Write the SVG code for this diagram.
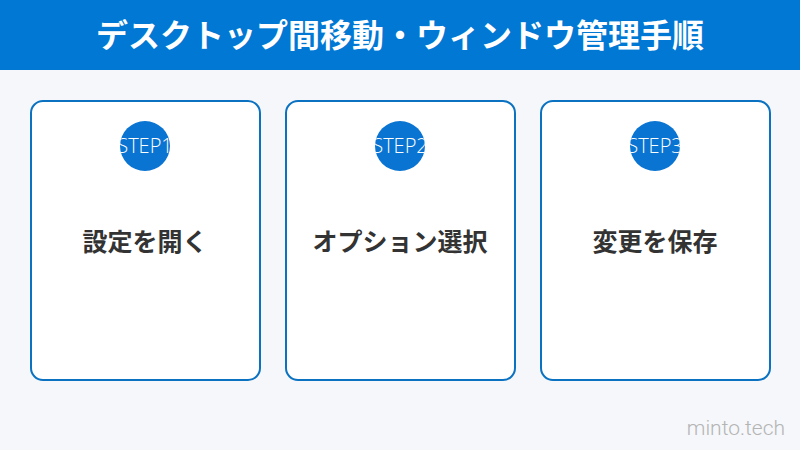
<svg xmlns="http://www.w3.org/2000/svg" width="800" height="450" viewBox="0 0 800 450">
<style>
.card{fill:#ffffff;stroke:#0b72c2;stroke-width:2}
.badge{fill:#0a74d2}
.step{font-family:"Open Sans","Noto Sans",sans-serif;font-size:20px;font-weight:300;fill:#ffffff;text-anchor:middle}
.label{font-family:"Noto Sans CJK JP",sans-serif;font-size:25px;font-weight:bold;fill:#333333;text-anchor:middle}
</style>
<defs>
<clipPath id="c1"><circle cx="145" cy="146" r="25"/></clipPath>
<clipPath id="c2"><circle cx="400" cy="146" r="25"/></clipPath>
<clipPath id="c3"><circle cx="655" cy="146" r="25"/></clipPath>
</defs>
<rect width="800" height="450" fill="#f5f7fa"/>
<g id="header">
<rect x="0" y="0" width="800" height="70" fill="#0078d4"/>
<text x="400" y="47" font-family="Noto Sans CJK JP, sans-serif" font-size="32" font-weight="bold" fill="#ffffff" text-anchor="middle">デスクトップ間移動・ウィンドウ管理手順</text>
</g>
<g id="step1">
<rect class="card" x="31" y="101" width="229" height="279" rx="12"/>
<circle class="badge" cx="145" cy="146" r="25"/>
<text class="step" x="145" y="153" clip-path="url(#c1)">STEP1</text>
<text class="label" x="145" y="251">設定を開く</text>
</g>
<g id="step2">
<rect class="card" x="286" y="101" width="229" height="279" rx="12"/>
<circle class="badge" cx="400" cy="146" r="25"/>
<text class="step" x="400" y="153" clip-path="url(#c2)">STEP2</text>
<text class="label" x="400" y="251">オプション選択</text>
</g>
<g id="step3">
<rect class="card" x="541" y="101" width="229" height="279" rx="12"/>
<circle class="badge" cx="655" cy="146" r="25"/>
<text class="step" x="655" y="153" clip-path="url(#c3)">STEP3</text>
<text class="label" x="655" y="251">変更を保存</text>
</g>
<g id="connectors"/>
<text x="785" y="435" font-family="Roboto, sans-serif" font-size="21" font-weight="300" fill="#b4b4b4" text-anchor="end">minto.tech</text>
</svg>
